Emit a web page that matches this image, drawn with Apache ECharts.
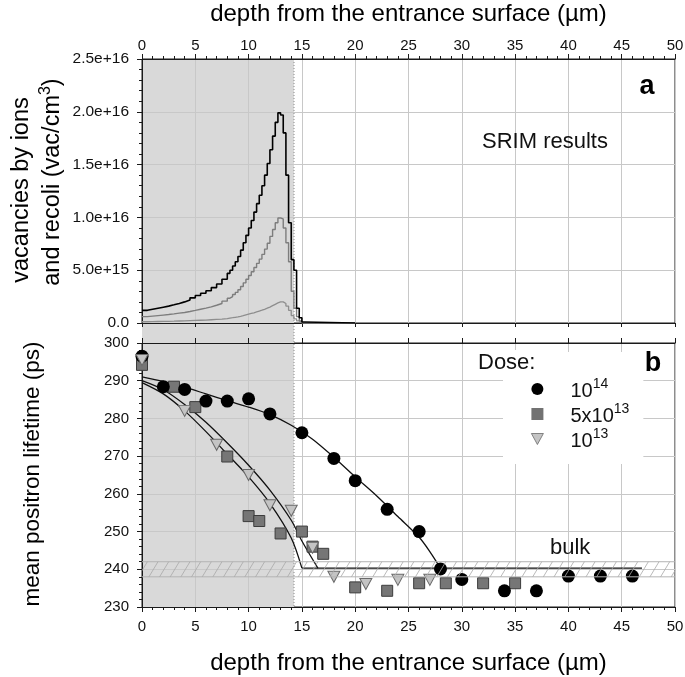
<!DOCTYPE html>
<html><head><meta charset="utf-8">
<script src="https://cdn.jsdelivr.net/npm/echarts@6/dist/echarts.min.js"></script>
<style>html,body{margin:0;padding:0;background:#fff}#c{width:685px;height:677px}</style>
</head><body><div id="c"></div>
<script>
const FONT = '"Liberation Sans", Arial, sans-serif';

// ---- Panel a: SRIM results (depth in µm, vacancies in units of 1e16 vac/cm3) ----
const srimDepth = [0,0.5,1,1.5,2,2.5,3,3.5,4,4.5,5,5.5,6,6.5,7,7.5,8,
  8.25,8.5,8.75,9,9.25,9.5,9.75,10,10.25,10.5,10.75,11,11.25,11.5,11.75,12,12.25,12.5,12.75,13,13.25,13.5,13.75,14,14.25,14.5,14.75,15,15.25,20];
const vacDose1e14 = [0.12,0.13,0.14,0.15,0.16,0.172,0.185,0.2,0.218,0.238,0.26,0.282,0.305,0.335,0.37,0.415,0.47,
  0.5,0.54,0.58,0.63,0.69,0.76,0.83,0.9,0.97,1.05,1.13,1.21,1.3,1.4,1.51,1.64,1.77,1.9,1.99,1.97,1.8,1.4,0.95,0.6,0.5,0.14,0.05,0.01,0,0];
const vacDose5e13 = [0.06,0.065,0.07,0.075,0.08,0.086,0.093,0.1,0.109,0.119,0.13,0.141,0.153,0.168,0.185,0.207,0.235,
  0.25,0.27,0.29,0.315,0.345,0.38,0.415,0.45,0.485,0.525,0.565,0.605,0.65,0.7,0.755,0.82,0.885,0.95,0.995,0.985,0.9,0.76,0.58,0.3,0.14,0.06,0.02,0,0,0];
const vacDose1e13 = [0.012,0.013,0.014,0.015,0.016,0.017,0.019,0.02,0.022,0.024,0.026,0.028,0.031,0.034,0.037,0.041,0.047,
  0.05,0.054,0.058,0.063,0.069,0.076,0.083,0.09,0.097,0.105,0.113,0.121,0.13,0.14,0.151,0.164,0.177,0.19,0.2,0.2,0.185,0.16,0.12,0.07,0.04,0.02,0.005,0,0,0];
const vacTickLabels = ['0.0','5.0e+15','1.0e+16','1.5e+16','2.0e+16','2.5e+16'];

// ---- Panel b: mean positron lifetime (ps) ----
const depth1e14 = [0,2,4,6,8,10,12,15,18,20,23,26,28,30,34,37,40,43,46];
const tau1e14   = [296.5,288.4,287.7,284.6,284.6,285.2,281.2,276.2,269.4,263.5,255.9,250.0,240.1,237.3,234.3,234.3,238.2,238.2,238.2];
const depth5e13 = [0,3,5,8,10,11,13,15,16,17,20,23,26,28.5,32,35];
const tau5e13   = [294.2,288.4,283.0,269.9,254.1,252.8,249.5,250.0,246.0,244.1,235.2,234.3,236.3,236.3,236.3,236.3];
const depth1e13 = [0,4,7,10,12,14,16,18,21,24,27];
const tau1e13   = [295.5,282.0,273.0,265.0,257.0,255.5,245.7,238.0,236.1,237.2,237.2];

const fitDepth1e14 = [0,2,4,6,8,10,12,14,16,18,20,22,24,26,27,28];
const fitTau1e14   = [291,289.8,288.3,286.5,284.7,283,281,278.2,274.5,269.7,264.5,259.5,254,248.5,244.7,240.3];
const fitDepth5e13 = [0,2,4,6,8,10,12,14,15];
const fitTau5e13   = [289.5,286.5,282,276.5,270.5,264.5,257.5,248.3,240.3];
const fitDepth1e13 = [0,2,4,6,8,10,12,14,15,16.5];
const fitTau1e13   = [290,287.6,283.7,279,273.5,267.6,261,253,247.5,240.3];
const bulkDepth = [15, 46.9];
const bulkTau   = [240.3, 240.3];
const bulkBand  = [238, 242];
const implantedDepth = 14.26;

const zip = (a, b) => a.map((v, i) => [v, b[i]]);

const AX = '#1a1a1a';
const GRIDC = '#c8c8c8';
function xAx(o) {
  return Object.assign({
    type: 'value', min: 0, max: 50, interval: 5, z: 5,
    axisLine: {show: true, onZero: false, lineStyle: {color: AX, width: 1}},
    axisTick: {show: true, inside: false, length: 5, lineStyle: {color: AX}},
    minorTick: {show: false},
    axisLabel: {show: false},
    splitLine: {show: false}
  }, o);
}
function yAx(o) {
  return Object.assign({
    type: 'value', z: 5,
    axisLine: {show: true, onZero: false, lineStyle: {color: AX, width: 1}},
    axisTick: {show: true, inside: false, length: 5, lineStyle: {color: AX}},
    minorTick: {show: true, splitNumber: 5, length: 3, lineStyle: {color: AX}},
    splitLine: {show: true, lineStyle: {color: GRIDC, width: 1}}
  }, o);
}
const nameStyle = {fontFamily: FONT, fontSize: 24, color: '#000'};
const noLine = {width: 0, opacity: 0};

const option = {
  animation: false,
  backgroundColor: '#fff',
  grid: [
    {left: 142, top: 59, width: 533, height: 264, show: true, borderColor: AX, borderWidth: 1, backgroundColor: 'transparent', outerBoundsMode: 'none'},
    {left: 142, top: 343, width: 533, height: 264, show: true, borderColor: AX, borderWidth: 1, backgroundColor: 'transparent', outerBoundsMode: 'none'},
    {left: 142, top: 59, width: 533, height: 548, show: false, outerBoundsMode: 'none'}
  ],
  xAxis: [
    xAx({gridIndex: 0, position: 'top',
      minorTick: {show: true, splitNumber: 5, length: 3, lineStyle: {color: AX}},
      axisLabel: {show: true, fontFamily: FONT, fontSize: 15, color: '#111', margin: 6, showMinLabel: true, showMaxLabel: true, hideOverlap: false},
      splitLine: {show: true, lineStyle: {color: GRIDC, width: 1}},
      name: 'depth from the entrance surface (µm)', nameLocation: 'middle', nameGap: 33, nameTextStyle: nameStyle}),
    xAx({gridIndex: 0, position: 'bottom', axisTick: {show: true, inside: false, length: 4, lineStyle: {color: AX}}}),
    xAx({gridIndex: 1, position: 'top', splitLine: {show: true, lineStyle: {color: GRIDC, width: 1}}}),
    xAx({gridIndex: 1, position: 'bottom',
      minorTick: {show: true, splitNumber: 5, length: 3, lineStyle: {color: AX}},
      axisLabel: {show: true, fontFamily: FONT, fontSize: 15, color: '#111', margin: 12, showMinLabel: true, showMaxLabel: true, hideOverlap: false},
      name: 'depth from the entrance surface (µm)', nameLocation: 'middle', nameGap: 44, nameTextStyle: nameStyle}),
    {gridIndex: 2, type: 'value', min: 0, max: 50, show: false}
  ],
  yAxis: [
    yAx({gridIndex: 0, min: 0, max: 2.5, interval: 0.5,
      axisLabel: {fontFamily: FONT, fontSize: 15.5, color: '#111', margin: 13, showMinLabel: true, showMaxLabel: true,
        formatter: v => vacTickLabels[Math.round(v / 0.5)]}}),
    yAx({gridIndex: 1, min: 230, max: 300, interval: 10,
      axisLabel: {fontFamily: FONT, fontSize: 15, color: '#111', margin: 13, showMinLabel: true, showMaxLabel: true}}),
    {gridIndex: 2, type: 'value', min: 0, max: 1, show: false}
  ],
  legend: {
    z: 20,
    data: [
      {name: '1e14', icon: 'circle', itemStyle: {color: '#000', borderWidth: 0}, lineStyle: noLine},
      {name: '5e13', icon: 'rect', itemStyle: {color: '#727272', borderWidth: 0}, lineStyle: noLine},
      {name: '1e13', icon: 'path://M0,0 L12,0 L6,11 Z', itemStyle: {color: '#c4c4c4', borderColor: '#6a6a6a', borderWidth: 0.8}, lineStyle: noLine}
    ],
    orient: 'vertical', left: 503, top: 352,
    padding: [25, 14, 13, 28],
    backgroundColor: '#fff',
    itemWidth: 12, itemHeight: 12, itemGap: 1,
    symbolRotate: 0,
    selectedMode: false,
    formatter: n => ({'1e14': '{b|10}{s|14}', '5e13': '{b|5x10}{s|13}', '1e13': '{b|10}{s|13}'})[n],
    textStyle: {fontFamily: FONT, color: '#111', rich: {
      b: {fontFamily: FONT, fontSize: 20, color: '#111', lineHeight: 24, padding: [0, 0, 0, 22], verticalAlign: 'bottom'},
      s: {fontFamily: FONT, fontSize: 14, color: '#111', lineHeight: 24, verticalAlign: 'top'}
    }}
  },
  graphic: [
    {type: 'text', x: 22, y: 190, rotation: Math.PI / 2, style: {text: 'vacancies by ions', fontFamily: FONT, fontSize: 23.5, fill: '#000', align: 'center', verticalAlign: 'middle'}},
    {type: 'text', x: 51, y: 182, rotation: Math.PI / 2, style: {text: '{n|and recoli (vac/cm}{s|3}{n|)}', fontFamily: FONT, fontSize: 23.5, fill: '#000', align: 'center', verticalAlign: 'middle',
      rich: {n: {fontFamily: FONT, fontSize: 23.5, fill: '#000', lineHeight: 27, verticalAlign: 'bottom'}, s: {fontFamily: FONT, fontSize: 16, fill: '#000', lineHeight: 27, verticalAlign: 'top'}}}},
    {type: 'text', x: 33, y: 474, rotation: Math.PI / 2, style: {text: 'mean positron lifetime (ps)', fontFamily: FONT, fontSize: 22.5, fill: '#000', align: 'center', verticalAlign: 'middle'}},
    {type: 'text', x: 545, y: 142, z: 20, style: {text: 'SRIM results', fontFamily: FONT, fontSize: 22, fill: '#111', align: 'center', verticalAlign: 'middle'}},
    {type: 'text', x: 647, y: 87, z: 20, style: {text: 'a', fontFamily: FONT, fontSize: 27, fontWeight: 'bold', fill: '#000', align: 'center', verticalAlign: 'middle'}},
    {type: 'text', x: 653, y: 364, z: 20, style: {text: 'b', fontFamily: FONT, fontSize: 27, fontWeight: 'bold', fill: '#000', align: 'center', verticalAlign: 'middle'}},
    {type: 'text', x: 478, y: 363, z: 20, style: {text: 'Dose:', fontFamily: FONT, fontSize: 22, fill: '#111', align: 'left', verticalAlign: 'middle', backgroundColor: '#fff', padding: [2, 0, 2, 0]}},
    {type: 'text', x: 550, y: 548, z: 20, style: {text: 'bulk', fontFamily: FONT, fontSize: 22, fill: '#111', align: 'left', verticalAlign: 'middle'}}
  ],
  series: [
    // implanted (shaded) region spanning both panels
    {type: 'custom', xAxisIndex: 4, yAxisIndex: 2, z: 1, silent: true, clip: false,
      data: [[0, implantedDepth]],
      renderItem: (params, api) => {
        const tl = api.coord([api.value(0), 1]);
        const br = api.coord([api.value(1), 0]);
        return {type: 'group', children: [
          {type: 'rect', shape: {x: tl[0], y: tl[1], width: br[0] - tl[0], height: br[1] - tl[1]}, style: {fill: '#d9d9d9'}},
          {type: 'line', shape: {x1: br[0], y1: tl[1], x2: br[0], y2: br[1]}, style: {stroke: '#8c8c8c', lineWidth: 1, lineDash: [1, 2]}}
        ]};
      }},
    // panel a curves
    {type: 'line', xAxisIndex: 0, yAxisIndex: 0, z: 10, step: 'end', showSymbol: false, data: zip(srimDepth, vacDose1e13), lineStyle: {color: '#8e8e8e', width: 1.3}},
    {type: 'line', xAxisIndex: 0, yAxisIndex: 0, z: 10, step: 'end', showSymbol: false, data: zip(srimDepth, vacDose5e13), lineStyle: {color: '#7d7d7d', width: 1.4}},
    {type: 'line', xAxisIndex: 0, yAxisIndex: 0, z: 11, step: 'end', showSymbol: false, data: zip(srimDepth, vacDose1e14), lineStyle: {color: '#000', width: 1.6}},
    // panel b fits
    {type: 'line', xAxisIndex: 3, yAxisIndex: 1, z: 9, smooth: 0.3, showSymbol: false, data: zip(fitDepth1e14, fitTau1e14), lineStyle: {color: '#111', width: 1.3}},
    {type: 'line', xAxisIndex: 3, yAxisIndex: 1, z: 9, smooth: 0.3, showSymbol: false, data: zip(fitDepth5e13, fitTau5e13), lineStyle: {color: '#111', width: 1.3}},
    {type: 'line', xAxisIndex: 3, yAxisIndex: 1, z: 9, smooth: 0.3, showSymbol: false, data: zip(fitDepth1e13, fitTau1e13), lineStyle: {color: '#111', width: 1.3}},
    {type: 'line', xAxisIndex: 3, yAxisIndex: 1, z: 9, showSymbol: false, data: zip(bulkDepth, bulkTau), lineStyle: {color: '#111', width: 1.3}},
    // panel b data
    {name: '5e13', type: 'scatter', xAxisIndex: 3, yAxisIndex: 1, z: 10, symbol: 'rect', symbolSize: 11,
      data: zip(depth5e13, tau5e13), itemStyle: {color: '#767676', borderColor: '#3c3c3c', borderWidth: 1, opacity: 1}},
    {name: '1e14', type: 'scatter', xAxisIndex: 3, yAxisIndex: 1, z: 11, symbol: 'circle', symbolSize: 13,
      data: zip(depth1e14, tau1e14), itemStyle: {color: '#000', opacity: 1}},
    {name: '1e13', type: 'scatter', xAxisIndex: 3, yAxisIndex: 1, z: 12, symbol: 'triangle', symbolRotate: 180, symbolSize: [12, 11],
      data: zip(depth1e13, tau1e13), itemStyle: {color: '#c4c4c4', borderColor: '#6a6a6a', borderWidth: 1, opacity: 1}},
    // bulk hatched band
    {type: 'custom', xAxisIndex: 3, yAxisIndex: 1, z: 13, silent: true, clip: false,
      data: [[0, bulkBand[0], 50, bulkBand[1]]],
      renderItem: (params, api) => {
        const a = api.coord([api.value(0), api.value(3)]);
        const b = api.coord([api.value(2), api.value(1)]);
        const left = a[0], top = a[1], right = b[0], bottom = b[1];
        const h = bottom - top;
        const step = api.coord([1, 0])[0] - api.coord([0, 0])[0];
        const run = h * 0.6;
        const kids = [
          {type: 'line', shape: {x1: left, y1: top, x2: right, y2: top}, style: {stroke: '#b4b4b4', lineWidth: 1}},
          {type: 'line', shape: {x1: left, y1: bottom, x2: right, y2: bottom}, style: {stroke: '#b4b4b4', lineWidth: 1}}
        ];
        for (let x = left - run + step * 0.5; x < right; x += step) {
          let xa = x, ya = bottom, xb = x + run, yb = top;
          if (xa < left) { ya = bottom - (left - xa) / run * h; xa = left; }
          if (xb > right) { yb = bottom - (right - x) / run * h; xb = right; }
          kids.push({type: 'line', shape: {x1: xa, y1: ya, x2: xb, y2: yb}, style: {stroke: '#a8a8a8', lineWidth: 0.8}});
        }
        return {type: 'group', children: kids};
      }}
  ]
};
const chart = echarts.init(document.getElementById('c'), null, {renderer: 'canvas'});
chart.setOption(option);
</script>
</body></html>
